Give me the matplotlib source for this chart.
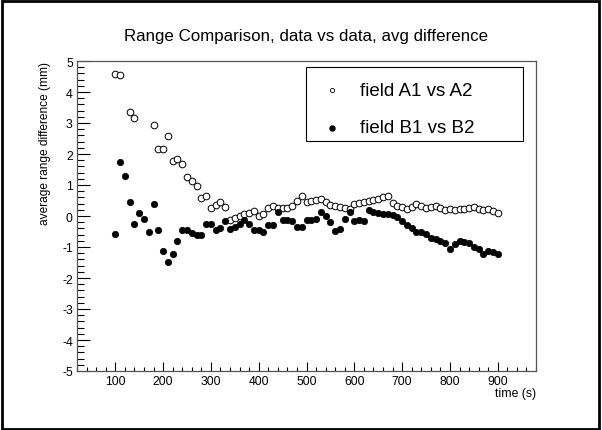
import numpy as np
import matplotlib
matplotlib.use("Agg")
import matplotlib.pyplot as plt
from matplotlib.patches import Rectangle
from matplotlib.ticker import MultipleLocator

plt.rcParams['font.family'] = ['Liberation Sans', 'DejaVu Sans']
plt.rcParams['axes.unicode_minus'] = False

time_a = [100, 110, 130, 140, 180, 190, 200, 210, 220, 230, 240, 250, 260, 270, 280, 290,
          300, 310, 320, 330, 340, 350, 360, 370, 380, 390, 400, 410, 420, 430, 440, 450,
          460, 470, 480, 490, 500, 510, 520, 530, 540, 550, 560, 570, 580, 590, 600, 610,
          620, 630, 640, 650, 660, 670, 680, 690, 700, 710, 720, 730, 740, 750, 760, 770,
          780, 790, 800, 810, 820, 830, 840, 850, 860, 870, 880, 890, 900]
diff_a = [4.57, 4.55, 3.35, 3.17, 2.92, 2.17, 2.17, 2.57, 1.77, 1.84, 1.68, 1.26, 1.13, 0.97, 0.58, 0.63,
          0.25, 0.37, 0.45, 0.28, -0.13, -0.06, -0.01, 0.06, 0.10, 0.17, 0.01, 0.05, 0.25, 0.32, 0.26, 0.26,
          0.27, 0.32, 0.49, 0.63, 0.46, 0.47, 0.52, 0.56, 0.46, 0.36, 0.31, 0.28, 0.25, 0.24, 0.40, 0.43,
          0.45, 0.48, 0.52, 0.56, 0.61, 0.65, 0.43, 0.33, 0.29, 0.24, 0.28, 0.39, 0.33, 0.26, 0.30, 0.33,
          0.25, 0.20, 0.22, 0.18, 0.21, 0.23, 0.25, 0.30, 0.24, 0.18, 0.21, 0.15, 0.11]

time_b = list(range(100, 901, 10))
diff_b = [-0.59, 1.74, 1.28, 0.44, -0.27, 0.11, -0.09, -0.52, 0.38, -0.46,
          -1.13, -1.47, -1.21, -0.81, -0.46, -0.46, -0.54, -0.60, -0.60, -0.26,
          -0.26, -0.46, -0.40, -0.17, -0.42, -0.36, -0.26, -0.12, -0.25, -0.44,
          -0.45, -0.53, -0.28, -0.28, 0.14, -0.13, -0.13, -0.17, -0.34, -0.37,
          -0.13, -0.12, -0.10, 0.12, -0.01, -0.20, -0.47, -0.42, -0.10, 0.12,
          -0.15, -0.13, -0.15, 0.20, 0.14, 0.11, 0.08, 0.05, 0.02, -0.02,
          -0.17, -0.28, -0.38, -0.50, -0.50, -0.58, -0.70, -0.74, -0.80, -0.87,
          -1.06, -0.90, -0.80, -0.83, -0.87, -1.01, -1.06, -1.22, -1.12, -1.17, -1.22]

title = "Range Comparison, data vs data, avg difference"
xlabel = "time (s)"
ylabel = "average range difference (mm)"
label_a = "field A1 vs A2"
label_b = "field B1 vs B2"

W, H = 602, 431
fig = plt.figure(figsize=(W / 100, H / 100), dpi=100)
fig.patch.set_facecolor('white')

def fx(px):
    return px / W

def fy(py):
    return 1 - py / H

ax = fig.add_axes([fx(77), fy(372), fx(536) - fx(77), fy(62) - fy(372)])
ax.set_xlim(20, 980)
ax.set_ylim(-5, 5)

ax.plot(time_a, diff_a, linestyle='none', marker='o', markersize=4.8,
        markerfacecolor='white', markeredgecolor='black', markeredgewidth=0.7)
ax.plot(time_b, diff_b, linestyle='none', marker='o', markersize=4.6,
        markerfacecolor='black', markeredgecolor='black', markeredgewidth=0.5)

ax.xaxis.set_major_locator(MultipleLocator(100))
ax.xaxis.set_minor_locator(MultipleLocator(20))
ax.yaxis.set_major_locator(MultipleLocator(1))
ax.yaxis.set_minor_locator(MultipleLocator(0.2))
ax.set_xticks(np.arange(100, 901, 100))
ax.tick_params(axis='both', which='both', direction='in', colors='black',
               top=False, right=False, labelsize=8.8, width=0.8)
ax.tick_params(axis='x', which='major', length=6.5, pad=3)
ax.tick_params(axis='x', which='minor', length=3.2)
ax.tick_params(axis='y', which='major', length=9.4, pad=3)
ax.tick_params(axis='y', which='minor', length=4.7)
for s in ax.spines.values():
    s.set_color('#555555')
    s.set_linewidth(0.9)

fig.text(fx(306), fy(37), title, ha='center', va='center', fontsize=12.2)
fig.text(fx(536), fy(394), xlabel, ha='right', va='center', fontsize=8.8)
fig.text(fx(45), fy(62), ylabel, ha='center', va='top', rotation=90, fontsize=8.6)

# legend box
fig.patches.append(Rectangle((fx(306), fy(142)), fx(523) - fx(306), fy(68) - fy(142),
                             transform=fig.transFigure, facecolor='white',
                             edgecolor='black', linewidth=0.8, zorder=5))
fig.lines.append(plt.Line2D([fx(332)], [fy(91)], transform=fig.transFigure, linestyle='none',
                            marker='o', markersize=3.0, markerfacecolor='white',
                            markeredgecolor='black', markeredgewidth=0.6, zorder=6))
fig.lines.append(plt.Line2D([fx(332)], [fy(129)], transform=fig.transFigure, linestyle='none',
                            marker='o', markersize=3.6, markerfacecolor='black',
                            markeredgecolor='black', zorder=6))
fig.text(fx(360), fy(91), label_a, ha='left', va='center', fontsize=13.5, zorder=7)
fig.text(fx(360), fy(129), label_b, ha='left', va='center', fontsize=13.5, zorder=7)

# canvas border
fig.patches.append(Rectangle((fx(1.5), fy(429.5)), fx(599) - fx(1.5), fy(1.5) - fy(429.5),
                             transform=fig.transFigure, facecolor='none',
                             edgecolor='black', linewidth=2.0, zorder=10))

fig.savefig('out.png', dpi=100)
